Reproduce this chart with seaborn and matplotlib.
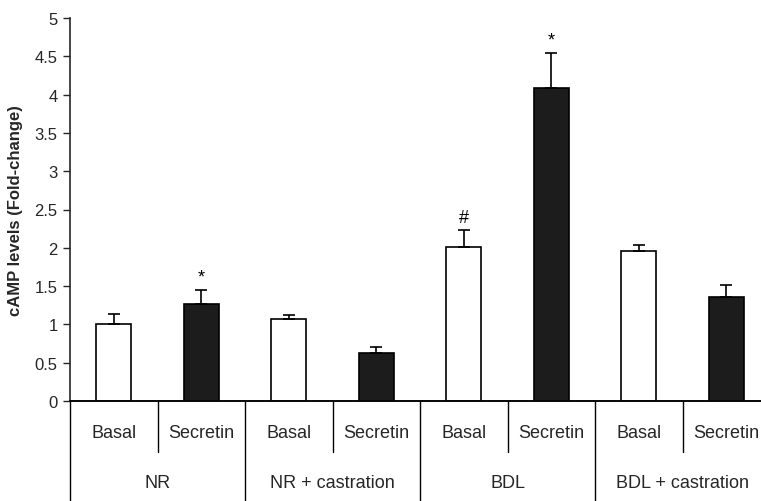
import matplotlib
matplotlib.use("Agg")
import matplotlib.pyplot as plt
import matplotlib.transforms as mtransforms
import seaborn as sns
import pandas as pd

groups = ["NR", "NR + castration", "BDL", "BDL + castration"]
treatments = ["Basal", "Secretin"]
values = [1.00, 1.27, 1.07, 0.63, 2.01, 4.08, 1.96, 1.36]
errors = [0.13, 0.18, 0.05, 0.07, 0.22, 0.46, 0.08, 0.15]
marks = ["", "*", "", "", "#", "*", "", ""]
yticks = [0, 0.5, 1, 1.5, 2, 2.5, 3, 3.5, 4, 4.5, 5]
ytick_labels = ["0", "0.5", "1", "1.5", "2", "2.5", "3", "3.5", "4", "4.5", "5"]
ylabel = "cAMP levels (Fold-change)"

sns.set_style("white")
plt.rcParams["font.family"] = ["Liberation Sans", "DejaVu Sans"]

keys = [f"{g}|{t}" for g in groups for t in treatments]
df = pd.DataFrame({"key": keys, "value": values,
                   "treat": [t for g in groups for t in treatments]})

fig = plt.figure(figsize=(7.61, 5.02), dpi=100)
ax = fig.add_axes([70 / 761, 100 / 502, 700 / 761, 383 / 502])

sns.barplot(data=df, x="key", y="value", hue="treat", order=keys,
            palette={"Basal": "white", "Secretin": "#1c1c1c"},
            edgecolor="black", linewidth=1.2, width=0.4, dodge=False,
            legend=False, ax=ax)

xs = list(range(len(keys)))
ax.errorbar(xs, values, yerr=[[0] * len(values), errors], fmt="none",
            ecolor="black", elinewidth=1.2, capsize=4, capthick=1.2)

for x, v, e, m in zip(xs, values, errors, marks):
    if m:
        ax.text(x, v + e + 0.06, m, ha="center", va="bottom",
                fontsize=13, color="black")

ax.set_xlim(-0.5, 7.5)
ax.set_ylim(0, 5)
ax.set_yticks(yticks)
ax.set_yticklabels(ytick_labels, fontsize=12)
ax.set_xticks([])
ax.set_xlabel("")
ax.set_ylabel(ylabel, fontsize=12, fontweight="bold", labelpad=8)
ax.tick_params(axis="y", direction="out", length=5, width=1, left=True, pad=4)

for s in ["top", "right"]:
    ax.spines[s].set_visible(False)
ax.spines["left"].set_bounds(0, 5)
ax.spines["left"].set_linewidth(1.2)
ax.spines["bottom"].set_linewidth(1.2)
ax.axhline(0, color="black", lw=1.2, clip_on=False, zorder=5)

trans = mtransforms.blended_transform_factory(ax.transData, ax.transAxes)
# sub-category separators (short)
for i in range(len(groups)):
    ax.plot([2 * i + 0.5, 2 * i + 0.5], [0, -0.133], transform=trans,
            color="black", lw=1.0, clip_on=False)
# group separators (long)
for i in range(len(groups)):
    ax.plot([2 * i - 0.5, 2 * i - 0.5], [0, -0.265], transform=trans,
            color="black", lw=1.0, clip_on=False)

for x, k in zip(xs, keys):
    ax.text(x, -0.081, k.split("|")[1], transform=trans, ha="center",
            va="center", fontsize=13)
for i, g in enumerate(groups):
    ax.text(2 * i + 0.5, -0.214, g, transform=trans, ha="center",
            va="center", fontsize=13)

fig.savefig("out.png", dpi=100)
